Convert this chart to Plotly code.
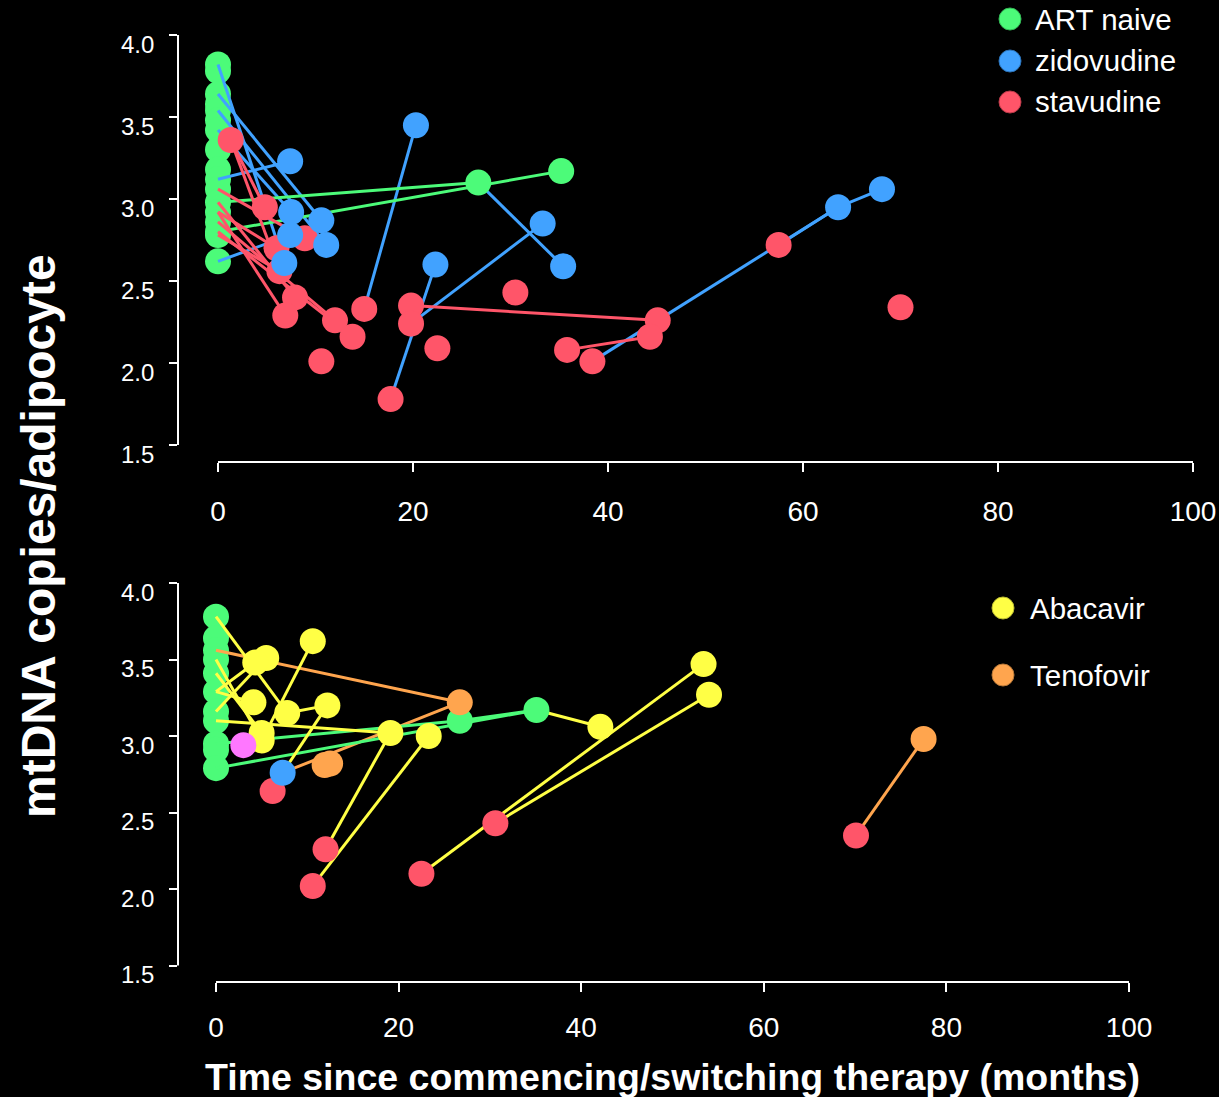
import plotly.graph_objects as go

W, H = 1219, 1097

# ---------------- data: top panel ----------------
TOP_NAIVE_X = [0, 0, 0, 0, 0, 0, 0, 0, 0, 0, 0, 0, 0, 0, 0, 0, 0, 26.7, 35.2]
TOP_NAIVE_Y = [3.82, 3.78, 3.64, 3.58, 3.54, 3.48, 3.42, 3.30, 3.18, 3.12, 3.06,
               2.98, 2.92, 2.86, 2.80, 2.78, 2.62, 3.10, 3.17]
TOP_ZDV_X = [7.4, 20.3, 7.5, 10.6, 11.1, 6.8, 7.4, 22.3, 33.3, 35.4, 63.6, 68.1]
TOP_ZDV_Y = [3.23, 3.45, 2.92, 2.87, 2.72, 2.61, 2.78, 2.60, 2.85, 2.59, 2.95, 3.06]
TOP_D4T_X = [1.3, 4.8, 8.9, 6.3, 7.9, 6.9, 12.0, 13.8, 10.6, 15.0, 19.8, 19.8,
             22.5, 17.7, 30.5, 45.1, 44.3, 35.8, 38.4, 57.5, 70.0, 6.0]
TOP_D4T_Y = [3.36, 2.95, 2.76, 2.56, 2.40, 2.29, 2.26, 2.16, 2.01, 2.33, 2.35, 2.24,
             2.09, 1.78, 2.43, 2.26, 2.16, 2.08, 2.01, 2.72, 2.34, 2.70]
# links: (from point, to point, colour key); g = naive, b = zidovudine, r = stavudine
TOP_LINKS = [
    ("g0", "b5", "b"), ("g2", "b3", "b"), ("g4", "b4", "b"), ("g6", "b2", "b"),
    ("g9", "b0", "b"), ("g16", "b6", "b"), ("r9", "b1", "b"), ("r13", "b7", "b"),
    ("r11", "b8", "b"), ("g17", "b9", "b"), ("r18", "b10", "b"), ("b10", "b11", "b"),
    ("r19", "b10", "b"),
    ("g11", "g17", "g"), ("g14", "g18", "g"),
    ("r0", "r1", "r"), ("r0", "r3", "r"), ("g10", "r2", "r"), ("g12", "r5", "r"),
    ("g13", "r6", "r"), ("g14", "r7", "r"), ("g11", "r4", "r"), ("g15", "r3", "r"),
    ("g12", "r21", "r"), ("r10", "r15", "r"), ("r17", "r16", "r"),
]

# ---------------- data: bottom panel ----------------
BOT_NAIVE_X = [0, 0, 0, 0, 0, 0, 0, 0, 0, 0, 0, 26.7, 35.1]
BOT_NAIVE_Y = [3.78, 3.64, 3.56, 3.50, 3.41, 3.29, 3.16, 3.10, 2.95, 2.91, 2.79, 3.10, 3.17]
BOT_ABC_X = [10.6, 5.5, 4.3, 4.1, 7.8, 12.2, 5.0, 5.0, 19.1, 23.3, 42.1, 53.4, 54.0]
BOT_ABC_Y = [3.62, 3.51, 3.48, 3.22, 3.15, 3.20, 2.97, 3.02, 3.02, 3.00, 3.06, 3.47, 3.27]
BOT_TDF_X = [26.7, 11.9, 12.5, 77.5]
BOT_TDF_Y = [3.22, 2.81, 2.82, 2.98]
BOT_ZDV_X = [7.3]
BOT_ZDV_Y = [2.76]
BOT_OTHER_X = [3.0]
BOT_OTHER_Y = [2.94]
BOT_D4T_X = [6.2, 12.0, 10.6, 22.5, 30.6, 70.1]
BOT_D4T_Y = [2.64, 2.26, 2.02, 2.10, 2.43, 2.35]
# g = naive, y = abacavir, o = tenofovir, b = zidovudine, r = stavudine
BOT_LINKS = [
    ("r5", "o3", "o"), ("g2", "o0", "o"), ("b0", "o0", "o"),
    ("g8", "g11", "g"), ("g10", "g12", "g"), ("g11", "g12", "g"),
    ("g12", "y10", "y"), ("r1", "y8", "y"), ("r2", "y9", "y"),
    ("r3", "y11", "y"), ("r4", "y12", "y"),
    ("g0", "y4", "y"), ("g3", "y6", "y"), ("g4", "y7", "y"), ("g6", "y1", "y"),
    ("g5", "y2", "y"), ("y6", "y0", "y"), ("y4", "y5", "y"), ("b0", "y5", "y"),
    ("g7", "y8", "y"), ("g5", "y3", "y"),
]

TICKS = [0, 20, 40, 60, 80, 100]
YTICKS = [1.5, 2.0, 2.5, 3.0, 3.5, 4.0]
YTICKTEXT = ["1.5", "2.0", "2.5", "3.0", "3.5", "4.0"]

TOP_LEGEND = ["ART naive", "zidovudine", "stavudine"]
BOT_LEGEND = ["Abacavir", "Tenofovir"]

# ---------------- styling ----------------
COL = {"g": "#4CFB79", "b": "#41A2FF", "r": "#FF5569", "y": "#FFFF45",
       "o": "#FFA54E", "m": "#FF77FF"}
EDGE = {"g": "#33B855", "b": "#2B72B8", "r": "#B83A48", "y": "#B8B830", "o": "#B87838"}
FONT = "Arial, Liberation Sans, sans-serif"
MSIZE = 26
LW = 3

fig = go.Figure()


def line_trace(groups, links, xa, ya):
    by_col = {}
    for a, b, c in links:
        xs, ys = groups[a[0]]
        x0, y0 = xs[int(a[1:])], ys[int(a[1:])]
        xs, ys = groups[b[0]]
        x1, y1 = xs[int(b[1:])], ys[int(b[1:])]
        lx, ly = by_col.setdefault(c, ([], []))
        lx += [x0, x1, None]
        ly += [y0, y1, None]
    for c, (lx, ly) in by_col.items():
        fig.add_trace(go.Scatter(x=lx, y=ly, mode="lines", xaxis=xa, yaxis=ya,
                                 line=dict(color=COL[c], width=LW),
                                 hoverinfo="skip", showlegend=False))


def marker_trace(xs, ys, key, xa, ya):
    fig.add_trace(go.Scatter(x=xs, y=ys, mode="markers", xaxis=xa, yaxis=ya,
                             marker=dict(size=MSIZE, color=COL[key], line=dict(width=0)),
                             showlegend=False))


top_groups = {"g": (TOP_NAIVE_X, TOP_NAIVE_Y), "b": (TOP_ZDV_X, TOP_ZDV_Y),
              "r": (TOP_D4T_X, TOP_D4T_Y)}
bot_groups = {"g": (BOT_NAIVE_X, BOT_NAIVE_Y), "y": (BOT_ABC_X, BOT_ABC_Y),
              "o": (BOT_TDF_X, BOT_TDF_Y), "b": (BOT_ZDV_X, BOT_ZDV_Y),
              "m": (BOT_OTHER_X, BOT_OTHER_Y), "r": (BOT_D4T_X, BOT_D4T_Y)}

# top panel
marker_trace(TOP_NAIVE_X[:17], TOP_NAIVE_Y[:17], "g", "x", "y")
line_trace(top_groups, TOP_LINKS, "x", "y")
marker_trace(TOP_NAIVE_X[17:], TOP_NAIVE_Y[17:], "g", "x", "y")
marker_trace(TOP_D4T_X, TOP_D4T_Y, "r", "x", "y")
marker_trace(TOP_ZDV_X, TOP_ZDV_Y, "b", "x", "y")

# bottom panel
marker_trace(BOT_NAIVE_X[:11], BOT_NAIVE_Y[:11], "g", "x2", "y2")
line_trace(bot_groups, BOT_LINKS, "x2", "y2")
marker_trace(BOT_NAIVE_X[11:], BOT_NAIVE_Y[11:], "g", "x2", "y2")
marker_trace(BOT_D4T_X, BOT_D4T_Y, "r", "x2", "y2")
marker_trace(BOT_ABC_X, BOT_ABC_Y, "y", "x2", "y2")
marker_trace(BOT_TDF_X, BOT_TDF_Y, "o", "x2", "y2")
marker_trace(BOT_ZDV_X, BOT_ZDV_Y, "b", "x2", "y2")
marker_trace(BOT_OTHER_X, BOT_OTHER_Y, "m", "x2", "y2")


# ---------------- axes geometry (pixels) ----------------
def axes_geom(x0px, ppx, left, right, v4px, ppy, top, bottom):
    xr = [(left - x0px) / ppx, (right - x0px) / ppx]
    yr = [4.0 - (bottom - v4px) / ppy, 4.0 - (top - v4px) / ppy]
    xd = [left / W, right / W]
    yd = [1 - bottom / H, 1 - top / H]
    return xr, yr, xd, yd


xr1, yr1, xd1, yd1 = axes_geom(218, 9.75, 178, 1198, 35, 164, 26, 462)
xr2, yr2, xd2, yd2 = axes_geom(216, 9.13, 178, 1134, 583, 153, 575, 982)

xcommon = dict(showgrid=False, zeroline=False, showline=False, ticks="outside",
               ticklen=9, tickwidth=2, tickcolor="white", tickvals=TICKS,
               tickfont=dict(size=28, color="white", family=FONT),
               automargin=False, fixedrange=True)
ycommon = dict(showgrid=False, zeroline=False, showline=False, ticks="outside",
               ticklen=8, tickwidth=2, tickcolor="white", tickvals=YTICKS,
               showticklabels=False, automargin=False, fixedrange=True)

fig.update_layout(
    width=W, height=H, paper_bgcolor="black", plot_bgcolor="black",
    margin=dict(l=0, r=0, t=0, b=0), showlegend=False,
    xaxis=dict(domain=xd1, range=xr1, anchor="y", ticklabelstandoff=15, **xcommon),
    yaxis=dict(domain=yd1, range=yr1, anchor="x", **ycommon),
    xaxis2=dict(domain=xd2, range=xr2, anchor="y2", ticklabelstandoff=11, **xcommon),
    yaxis2=dict(domain=yd2, range=yr2, anchor="x2", **ycommon),
)

shapes = []
annotations = []
for xa, ya in (("x", "y"), ("x2", "y2")):
    shapes.append(dict(type="line", xref=xa, yref=ya + " domain", x0=0, x1=100, y0=0, y1=0,
                       line=dict(color="white", width=2)))
    shapes.append(dict(type="line", xref=xa + " domain", yref=ya, x0=0, x1=0, y0=1.5, y1=4.0,
                       line=dict(color="white", width=2)))
    # y tick labels (sit slightly below their ticks, as in the original)
    for v, t in zip(YTICKS, YTICKTEXT):
        annotations.append(dict(xref="paper", yref=ya, x=156 / W, y=v, yshift=-9,
                                xanchor="right", yanchor="middle", showarrow=False,
                                text=t, font=dict(size=24, color="white", family=FONT)))


def legend_item(cx, cy, tx, text, key):
    shapes.append(dict(type="circle", xref="paper", yref="paper",
                       xsizemode="pixel", ysizemode="pixel",
                       xanchor=cx / W, yanchor=1 - cy / H,
                       x0=-11, x1=11, y0=-11, y1=11,
                       fillcolor=COL[key], line=dict(color=EDGE[key], width=1)))
    annotations.append(dict(xref="paper", yref="paper", x=tx / W, y=1 - cy / H,
                            xanchor="left", yanchor="middle", showarrow=False,
                            text=text, font=dict(size=29.5, color="white", family=FONT)))


legend_item(1010, 19, 1033, TOP_LEGEND[0], "g")
legend_item(1010, 61, 1033, TOP_LEGEND[1], "b")
legend_item(1010, 102, 1033, TOP_LEGEND[2], "r")
legend_item(1003, 608, 1028, BOT_LEGEND[0], "y")
legend_item(1003, 675, 1028, BOT_LEGEND[1], "o")

annotations.append(dict(xref="paper", yref="paper", x=672 / W, y=1 - 1077 / H,
                        xanchor="center", yanchor="middle", showarrow=False,
                        text="<b>Time since commencing/switching therapy (months)</b>",
                        font=dict(size=37.5, color="white", family=FONT)))
annotations.append(dict(xref="paper", yref="paper", x=38 / W, y=1 - 536 / H,
                        xanchor="center", yanchor="middle", showarrow=False, textangle=-90,
                        text="<b>mtDNA copies/adipocyte</b>",
                        font=dict(size=48, color="white", family=FONT)))

fig.update_layout(shapes=shapes, annotations=annotations)
fig.write_html("out.html", config={"displayModeBar": False},
               post_script="document.body.style.margin='0';document.body.style.overflow='hidden';")
